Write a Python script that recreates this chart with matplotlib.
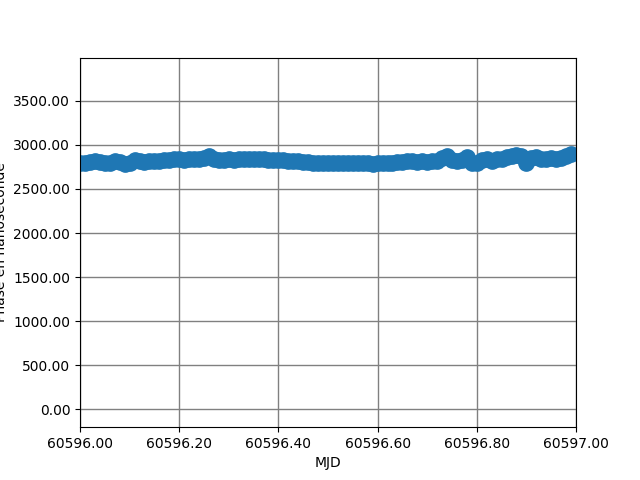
import matplotlib
matplotlib.use("Agg")
import matplotlib.pyplot as plt
from matplotlib.ticker import FormatStrFormatter

# MJD offsets from 60596 (one point every 0.01 day)
mjd_start = 60596.0
day_offsets = [i / 100 for i in range(100)]

# phase values in nanoseconds
phase_ns = [
    2800, 2795, 2805, 2815, 2808, 2792, 2800, 2812, 2805, 2780,
    2795, 2830, 2818, 2810, 2815, 2822, 2818, 2830, 2825, 2835,
    2840, 2832, 2838, 2845, 2840, 2850, 2875, 2835, 2830, 2832,
    2835, 2830, 2838, 2835, 2840, 2842, 2838, 2835, 2832, 2828,
    2826, 2824, 2818, 2822, 2815, 2810, 2805, 2800, 2798, 2795,
    2792, 2790, 2792, 2790, 2794, 2792, 2790, 2793, 2790, 2788,
    2790, 2792, 2795, 2800, 2805, 2808, 2815, 2812, 2805, 2818,
    2805, 2815, 2820, 2850, 2875, 2830, 2815, 2825, 2868, 2790,
    2800, 2830, 2835, 2820, 2835, 2845, 2860, 2878, 2885, 2870,
    2800, 2850, 2865, 2845, 2840, 2850, 2845, 2855, 2870, 2895,
]

mjd = [mjd_start + d for d in day_offsets]

fig, ax = plt.subplots(figsize=(6.4, 4.8), dpi=100)
ax.plot(mjd, phase_ns, marker="o", markersize=11, linewidth=6, color="#1f77b4")

ax.set_xlim(60596.0, 60597.0)
ax.set_ylim(-202, 3990)
ax.set_xticks([60596.0, 60596.2, 60596.4, 60596.6, 60596.8, 60597.0])
ax.set_yticks([0, 500, 1000, 1500, 2000, 2500, 3000, 3500])
ax.xaxis.set_major_formatter(FormatStrFormatter("%.2f"))
ax.yaxis.set_major_formatter(FormatStrFormatter("%.2f"))
ax.grid(True, color="gray", linewidth=1)
ax.set_axisbelow(True)

ax.set_xlabel("MJD")
ax.set_ylabel("Phase en nanoseconde")

plt.savefig("out.png")
